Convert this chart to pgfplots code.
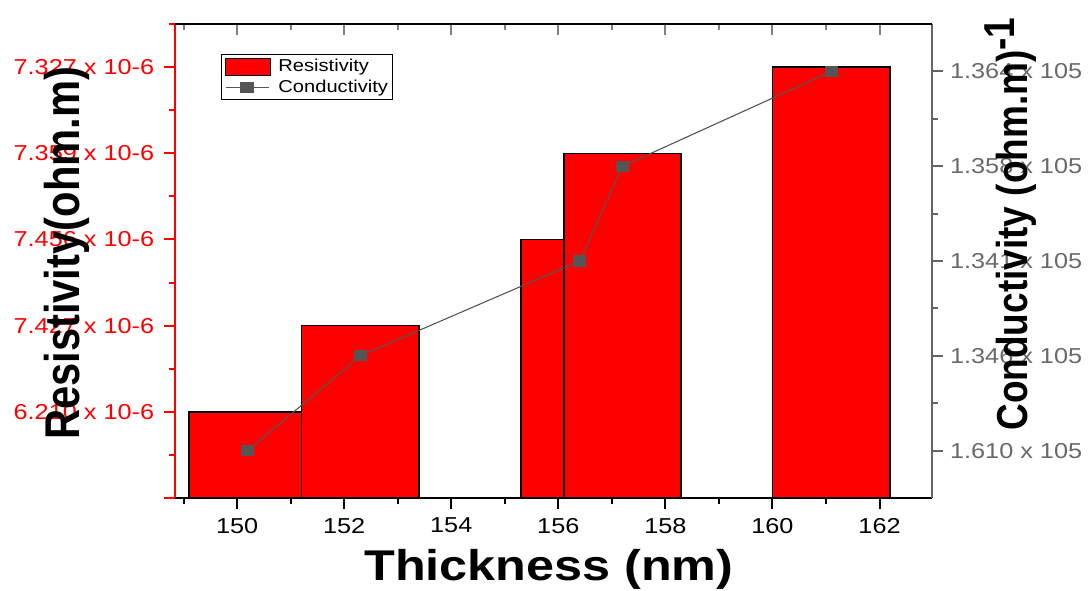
\documentclass[border=0pt]{standalone}
\usepackage{fontspec}
\setmainfont{Liberation Sans}[FakeStretch=1.17]
\newfontfamily\plainfont{Liberation Sans}
\usepackage{graphicx}
\usepackage{pgfplots}
\pgfplotsset{compat=1.18}
\definecolor{axgray}{RGB}{100,100,100}
\definecolor{lblgray}{RGB}{105,105,105}
\definecolor{mkgray}{RGB}{85,85,85}
\pgfplotsset{
  mybarlegend/.style={legend image code/.code={\draw[##1] (0pt,-4.25pt) rectangle (22.5pt,4.25pt);}},
  mylinelegend/.style={legend image code/.code={\draw[mark repeat=2,mark phase=2,##1] plot coordinates {(0pt,0pt)(10.75pt,0pt)(21.5pt,0pt)};}},
  redbar/.style={ybar, bar width=2.19, fill=red, draw=black, line width=0.7pt},
 common/.style={
  at={(0pt,0pt)}, anchor=south west,
  scale only axis, width=378.5pt, height=237pt,
  xmin=148.84, xmax=162.98,
  xtick={150,152,...,162},
  minor xtick={149,151,...,163},
  major tick length=5.5pt, minor tick length=3pt,
  tick align=outside,
  /pgf/number format/assume math mode=true,
  every tick/.append style={line width=1pt},
  ticklabel style={font=\fontsize{10.8}{12}\selectfont},
 }
}
\begin{document}
\begin{tikzpicture}
\path[use as bounding box] (-87.5pt,-46pt) rectangle (456.5pt,249pt);
% bars, left and bottom axes
\begin{axis}[common,
  axis x line*=bottom, axis y line*=left,
  x axis line style={-, black, line width=1.1pt},
  y axis line style={-, red, line width=1.1pt},
  ymin=0, ymax=5.5,
  ytick={0,1,2,3,4,5},
  yticklabels={,6.210 x 10-6,7.427 x 10-6,7.456 x 10-6,7.359 x 10-6,7.327 x 10-6},
  minor ytick={0.5,1.5,...,5.5},
  y tick style={red},
  x tick style={black},
  yticklabel style={red, xshift=-1.4pt},
  xticklabel style={yshift=-1pt},
  xlabel={\fontsize{21.5}{24}\selectfont\bfseries Thickness (nm)},
  xlabel style={at={(axis description cs:0.494,-0.173)}, anchor=base},
  ylabel={\scalebox{1}[1.17]{\plainfont\fontsize{20.85}{24}\selectfont\bfseries Resistivity(ohm.m)}},
  ylabel style={at={(axis description cs:-0.1255,0.516)}, anchor=base, rotate=0},
]
\addplot[redbar] coordinates {(150.2,1)};
\addplot[redbar] coordinates {(152.3,2)};
\addplot[redbar] coordinates {(156.4,3)};
\addplot[redbar] coordinates {(157.2,4)};
\addplot[redbar] coordinates {(161.1,5)};
\end{axis}
% line, right axis
\begin{axis}[common,
  axis x line=none, axis y line*=right,
  y axis line style={-, axgray, line width=1pt},
  ymin=0.5, ymax=5.5,
  ytick={1,2,3,4,5},
  yticklabels={1.610 x 105,1.346 x 105,1.341 x 105,1.358 x 105,1.364 x 105},
  minor ytick={1.5,2.5,3.5,4.5},
  y tick style={axgray},
  yticklabel style={lblgray, xshift=0pt},
  ylabel={\scalebox{1}[1.17]{\plainfont\fontsize{18.5}{22}\selectfont\bfseries Conductivity (ohm.m)\raisebox{0.28em}{-1}}},
  ylabel style={at={(axis description cs:1.1255,0.578)}, anchor=base, rotate=0},
  legend style={at={(axis description cs:0.0608,0.937)}, anchor=north west,
    draw=black, line width=0.6pt, inner sep=1.6pt, row sep=1.2pt,
    font=\fontsize{8.6}{10}\selectfont, nodes={inner sep=0.6pt},
    /tikz/every odd column/.append style={column sep=3pt}},
  legend cell align=left,
]
\addlegendimage{fill=red, draw=black, line width=0.7pt, mybarlegend}
\addlegendentry{Resistivity}
\addplot[color=mkgray, line width=0.55pt, mark=square*, mark size=2.5pt,
  mark options={solid, fill=mkgray, draw=mkgray, xscale=1.2}, mylinelegend]
  coordinates {(150.2,1) (152.3,2) (156.4,3) (157.2,4) (161.1,5)};
\addlegendentry{Conductivity}
\end{axis}
% top axis with inward ticks
\begin{axis}[common,
  axis x line*=top, axis y line=none,
  tick align=inside,
  x axis line style={-, black, line width=1pt},
  xticklabels={},
  ymin=0, ymax=1,
]
\end{axis}
\end{tikzpicture}
\end{document}
